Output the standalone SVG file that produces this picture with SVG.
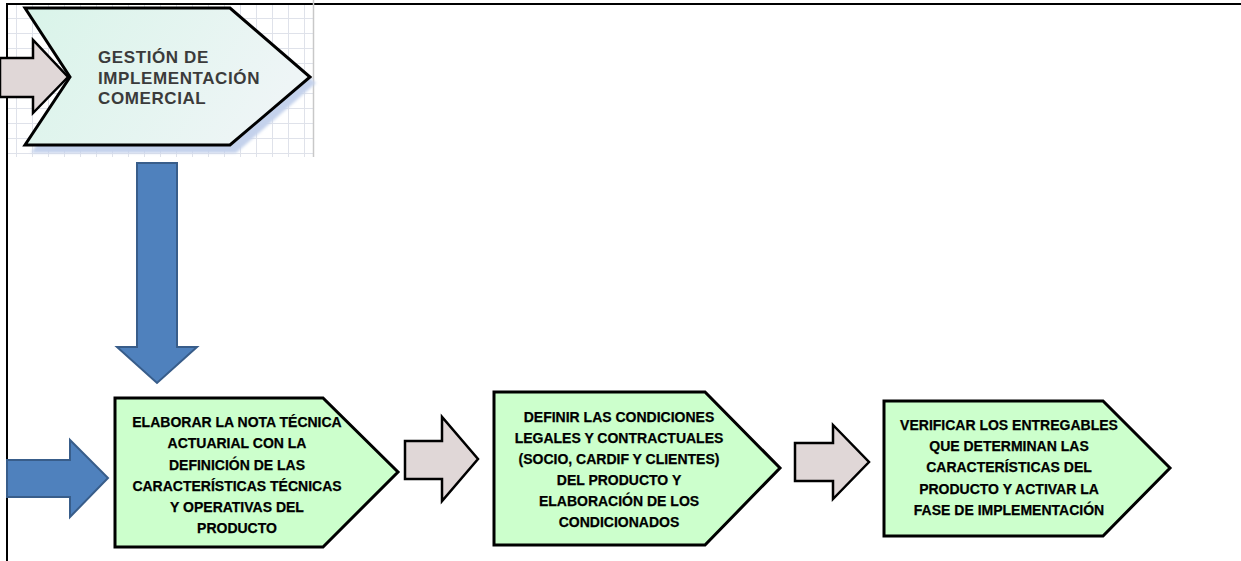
<svg xmlns="http://www.w3.org/2000/svg" width="1241" height="561" viewBox="0 0 1241 561">
<defs>
<pattern id="grid" x="0" y="3" width="16" height="15" patternUnits="userSpaceOnUse">
<rect width="16" height="15" fill="#ffffff"/>
<path d="M0 0.5H16M0.5 0V15" stroke="#dfe2ea" stroke-width="1" fill="none"/>
</pattern>
<linearGradient id="mint" x1="0" y1="0" x2="1" y2="0.3">
<stop offset="0" stop-color="#d9f4e9"/>
<stop offset="1" stop-color="#eef5f6"/>
</linearGradient>
<filter id="blur" x="-10%" y="-10%" width="120%" height="130%"><feGaussianBlur stdDeviation="1.5"/></filter>
</defs>
<style>
.frame{stroke:#000;stroke-width:2;fill:none}
.box{fill:#ccffcc;stroke:#000;stroke-width:3;stroke-linejoin:miter}
.garrow{fill:#e0d7d7;stroke:#000;stroke-width:2.5;stroke-linejoin:miter}
.barrow{fill:#4f81bd;stroke:#385d8a;stroke-width:2}
.t{font-family:"Liberation Sans",Arial,sans-serif;font-weight:bold;font-size:14px;fill:#000;text-anchor:middle;stroke:#000;stroke-width:0.25}
.tt{font-family:"Liberation Sans",Arial,sans-serif;font-weight:bold;font-size:17px;letter-spacing:0.6px;fill:#3b3b3b}
</style>
<rect width="1241" height="561" fill="#ffffff"/>
<path class="frame" d="M7 561V4H1241"/>

<g id="gestion">
<rect x="8" y="5" width="305" height="152" fill="url(#grid)"/>
<line x1="313.5" y1="0" x2="313.5" y2="157" stroke="#c8c8c8" stroke-width="1.5"/>
<polygon points="31,14 236,14 316,83 236,153 31,153 76,83" fill="#c4d2ec" filter="url(#blur)"/>
<polygon points="25,8 230,8 310,77 230,145 25,145 70,77" fill="url(#mint)" stroke="#000" stroke-width="3" stroke-linejoin="miter"/>
<text class="tt" x="98" y="63">GESTIÓN DE</text>
<text class="tt" x="98" y="84">IMPLEMENTACIÓN</text>
<text class="tt" x="98" y="104">COMERCIAL</text>
</g>

<g id="connectors">
<polygon class="garrow" points="0,58 33,58 33,40 68,77 33,113 33,97 0,97"/>
<polygon class="barrow" points="137,163 177,163 177,347 197,347 157,383 117,347 137,347"/>
<polygon class="barrow" points="7,460 70,460 70,440 108,478 70,517 70,497 7,497"/>
<polygon class="garrow" points="405,441 442,441 442,417 478,459 442,501 442,479 405,479"/>
<polygon class="garrow" points="795,443 833,443 833,425 869,462 833,499 833,481 795,481"/>
</g>

<g id="box1">
<polygon class="box" points="115,398 323,398 398,472 323,547 115,547"/>
<text class="t" x="237" y="427">ELABORAR LA NOTA TÉCNICA</text>
<text class="t" x="237" y="448">ACTUARIAL CON LA</text>
<text class="t" x="237" y="469.5">DEFINICIÓN DE LAS</text>
<text class="t" x="237" y="490.5">CARACTERÍSTICAS TÉCNICAS</text>
<text class="t" x="237" y="512">Y OPERATIVAS DEL</text>
<text class="t" x="237" y="533">PRODUCTO</text>
</g>

<g id="box2">
<polygon class="box" points="494,392 705,392 780,468 705,545 494,545"/>
<text class="t" x="619" y="422">DEFINIR LAS CONDICIONES</text>
<text class="t" x="619" y="443">LEGALES Y CONTRACTUALES</text>
<text class="t" x="619" y="464">(SOCIO, CARDIF Y CLIENTES)</text>
<text class="t" x="619" y="485">DEL PRODUCTO Y</text>
<text class="t" x="619" y="506">ELABORACIÓN DE LOS</text>
<text class="t" x="619" y="527">CONDICIONADOS</text>
</g>

<g id="box3">
<polygon class="box" points="884,401 1103,401 1170,468 1103,536 884,536"/>
<text class="t" x="1009" y="430">VERIFICAR LOS ENTREGABLES</text>
<text class="t" x="1009" y="451">QUE DETERMINAN LAS</text>
<text class="t" x="1009" y="472">CARACTERÍSTICAS DEL</text>
<text class="t" x="1009" y="493.5">PRODUCTO Y ACTIVAR LA</text>
<text class="t" x="1009" y="515">FASE DE IMPLEMENTACIÓN</text>
</g>
</svg>
